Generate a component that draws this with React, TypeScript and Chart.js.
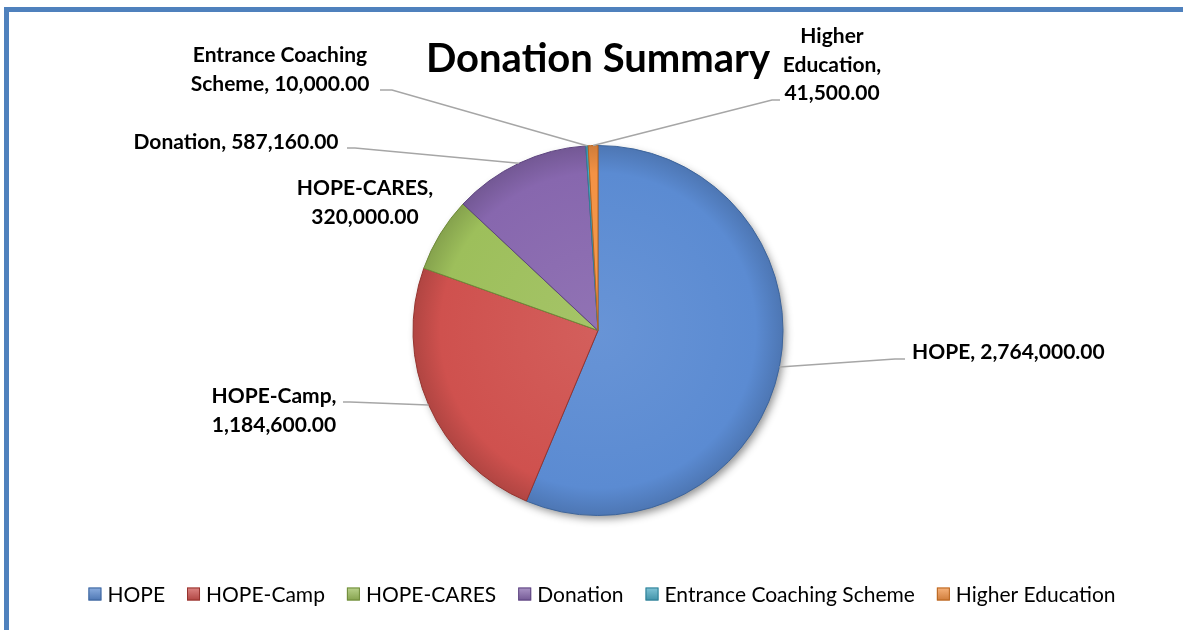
import React, { useEffect, useRef } from "react";
import { Chart, registerables } from "chart.js";

Chart.register(...registerables);

// ---------- data ----------
const categories = [
  "HOPE",
  "HOPE-Camp",
  "HOPE-CARES",
  "Donation",
  "Entrance Coaching Scheme",
  "Higher Education",
];
const donationValues = [2764000, 1184600, 320000, 587160, 10000, 41500];
const chartTitle = "Donation Summary";

// ---------- styles ----------
const sliceColors = ["#5b8bd2", "#cf514e", "#9dbf5b", "#8767ae", "#4bacc6", "#f39244"];
const sliceEdges = ["#3d659c", "#96342f", "#6f8b3a", "#5e4580", "#2e7f96", "#b8651f"];
const FONT = "Lato, 'Open Sans', sans-serif";
const W = 1183;
const H = 630;

// label placement (baseline of first line), leader path end points
const labelLayout = [
  { x: 912, y: 359, align: "left", maxW: 320, leader: [[895, 359], [905, 359]] },
  { x: 274, y: 403, align: "center", maxW: 150, leader: [[350, 402], [343, 402]] },
  { x: 365, y: 195, align: "center", maxW: 140, leader: null },
  { x: 236, y: 149, align: "center", maxW: 320, leader: [[355, 148], [347, 148]] },
  { x: 280, y: 62, align: "center", maxW: 200, leader: [[392, 90], [380, 90]] },
  { x: 832, y: 43, align: "center", maxW: 115, leader: [[772, 100], [780, 100]] },
];

const fmt = (v: number) =>
  v.toLocaleString("en-US", { minimumFractionDigits: 2, maximumFractionDigits: 2 });

function hexToRgb(h: string) {
  const n = parseInt(h.slice(1), 16);
  return [(n >> 16) & 255, (n >> 8) & 255, n & 255];
}
function mix(h: string, t: number) {
  const [r, g, b] = hexToRgb(h);
  const f = (c: number) => Math.round(t >= 0 ? c + (255 - c) * t : c * (1 + t));
  return `rgb(${f(r)},${f(g)},${f(b)})`;
}

function wrap(ctx: CanvasRenderingContext2D, text: string, maxW: number) {
  const words = text.split(" ");
  const lines: string[] = [];
  let cur = "";
  for (const w of words) {
    const t = cur ? cur + " " + w : w;
    if (cur && ctx.measureText(t).width > maxW) {
      lines.push(cur);
      cur = w;
    } else cur = t;
  }
  if (cur) lines.push(cur);
  return lines;
}

const decorPlugin = {
  id: "decor",
  beforeDraw(chart: any) {
    const ctx = chart.ctx as CanvasRenderingContext2D;
    ctx.save();
    ctx.fillStyle = "#ffffff";
    ctx.fillRect(0, 0, W, H);
    // frame (top + left edges visible)
    ctx.strokeStyle = "#4f81bd";
    ctx.lineWidth = 5;
    ctx.beginPath();
    ctx.moveTo(6.5, H + 10);
    ctx.lineTo(6.5, 9.5);
    ctx.lineTo(W + 10, 9.5);
    ctx.stroke();
    // title
    ctx.fillStyle = "#000";
    ctx.font = `bold 40px ${FONT}`;
    ctx.textAlign = "center";
    ctx.textBaseline = "alphabetic";
    ctx.fillText(chartTitle, 598, 72);
    ctx.restore();
  },
  beforeDatasetsDraw(chart: any) {
    const meta = chart.getDatasetMeta(0);
    const el = meta.data[0];
    if (!el) return;
    const { x, y, outerRadius } = el.getProps(["x", "y", "outerRadius"], true);
    const ctx = chart.ctx as CanvasRenderingContext2D;
    ctx.save();
    ctx.shadowColor = "rgba(0,0,0,0.45)";
    ctx.shadowBlur = 9;
    ctx.shadowOffsetX = 3;
    ctx.shadowOffsetY = 4;
    ctx.fillStyle = "#888";
    ctx.beginPath();
    ctx.arc(x, y, outerRadius - 1, 0, Math.PI * 2);
    ctx.fill();
    ctx.restore();
  },
  afterDatasetsDraw(chart: any) {
    const ctx = chart.ctx as CanvasRenderingContext2D;
    const meta = chart.getDatasetMeta(0);
    ctx.save();
    ctx.font = `bold 21px ${FONT}`;
    ctx.textBaseline = "alphabetic";
    meta.data.forEach((el: any, i: number) => {
      const lay = labelLayout[i];
      const { x, y, startAngle, endAngle, outerRadius } = el.getProps(
        ["x", "y", "startAngle", "endAngle", "outerRadius"],
        true
      );
      const mid = (startAngle + endAngle) / 2;
      const px = x + Math.cos(mid) * outerRadius;
      const py = y + Math.sin(mid) * outerRadius;
      if (lay.leader) {
        ctx.strokeStyle = "#a6a6a6";
        ctx.lineWidth = 1.5;
        ctx.beginPath();
        ctx.moveTo(px, py);
        lay.leader.forEach((p) => ctx.lineTo(p[0], p[1]));
        ctx.stroke();
      }
      const text = `${categories[i]}, ${fmt(donationValues[i])}`;
      const lines = wrap(ctx, text, lay.maxW);
      ctx.fillStyle = "#000";
      ctx.textAlign = lay.align as CanvasTextAlign;
      lines.forEach((ln, k) => ctx.fillText(ln, lay.x, lay.y + k * 28.5));
    });
    ctx.restore();
  },
  afterDraw(chart: any) {
    const ctx = chart.ctx as CanvasRenderingContext2D;
    ctx.save();
    ctx.font = `21px ${FONT}`;
    ctx.textBaseline = "middle";
    ctx.textAlign = "left";
    const box = 13;
    const gapText = 6;
    const gapItem = 22;
    const widths = categories.map((c) => box + gapText + ctx.measureText(c).width);
    const total = widths.reduce((a, b) => a + b, 0) + gapItem * (categories.length - 1);
    let cx = 602 - total / 2;
    const cy = 594;
    categories.forEach((c, i) => {
      const g = ctx.createLinearGradient(cx, cy - box / 2, cx, cy + box / 2);
      g.addColorStop(0, mix(sliceColors[i], 0.3));
      g.addColorStop(1, mix(sliceColors[i], -0.15));
      ctx.fillStyle = g;
      ctx.fillRect(cx, cy - box / 2, box, box);
      ctx.strokeStyle = sliceEdges[i];
      ctx.lineWidth = 1;
      ctx.strokeRect(cx + 0.5, cy - box / 2 + 0.5, box - 1, box - 1);
      ctx.fillStyle = "#000";
      ctx.fillText(c, cx + box + gapText, cy + 1);
      cx += widths[i] + gapItem;
    });
    ctx.restore();
  },
};

export default function App() {
  const ref = useRef<HTMLCanvasElement | null>(null);
  useEffect(() => {
    if (!ref.current) return;
    const chart = new Chart(ref.current, {
      type: "pie",
      data: {
        labels: categories,
        datasets: [
          {
            data: donationValues,
            backgroundColor: (c: any) => {
              const i = c.dataIndex ?? 0;
              const area = c.chart.chartArea;
              if (!area) return sliceColors[i];
              const cx = (area.left + area.right) / 2;
              const cy = (area.top + area.bottom) / 2;
              const r = Math.min(area.width, area.height) / 2;
              const g = c.chart.ctx.createRadialGradient(cx, cy, 0, cx, cy, r);
              g.addColorStop(0, mix(sliceColors[i], 0.08));
              g.addColorStop(0.85, sliceColors[i]);
              g.addColorStop(1, mix(sliceColors[i], -0.15));
              return g;
            },
            borderColor: sliceEdges,
            borderWidth: 1,
            hoverOffset: 0,
          },
        ],
      },
      options: {
        animation: false,
        responsive: false,
        devicePixelRatio: 1,
        layout: { padding: { top: 145, bottom: 114, left: 13, right: 0 } },
        plugins: {
          legend: { display: false },
          title: { display: false },
          tooltip: { enabled: false },
        },
      },
      plugins: [decorPlugin],
    });
    return () => chart.destroy();
  }, []);
  return (
    <div
      style={{
        position: "fixed",
        left: 0,
        top: 0,
        width: W,
        height: H,
        overflow: "hidden",
        background: "#fff",
      }}
    >
      <canvas ref={ref} width={W} height={H} style={{ display: "block" }} />
    </div>
  );
}
